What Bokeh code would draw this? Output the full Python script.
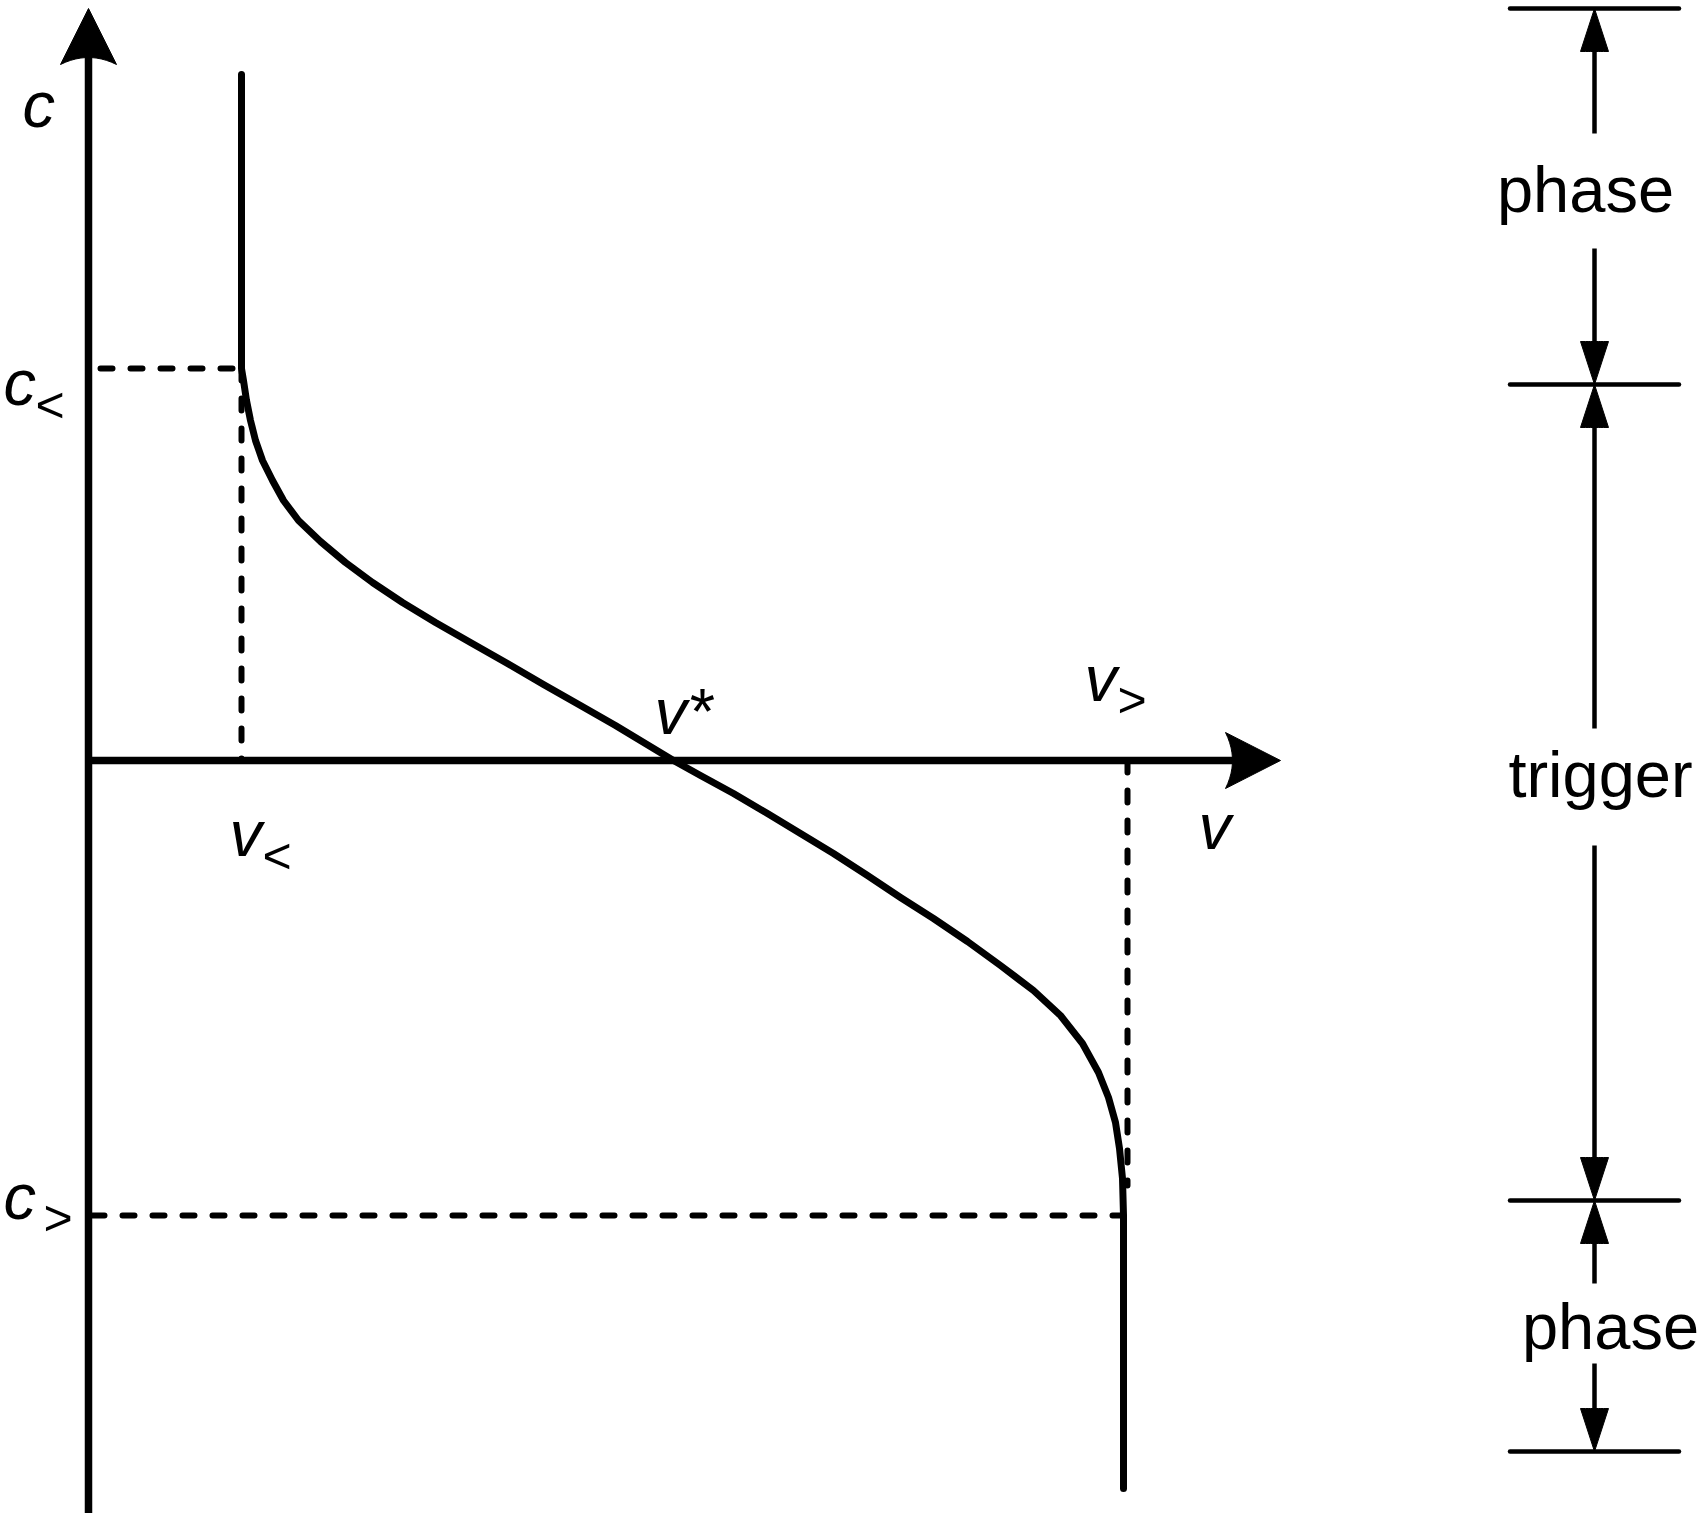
import numpy as np
from bokeh.plotting import figure
from bokeh.models import Range1d
from bokeh.embed import file_html
from bokeh.resources import INLINE
from bokeh.core.properties import value

# ---------------- data (diagram units) ----------------
# characteristic curve c(v)
v_curve = [1.53, 1.53, 1.55, 1.58, 1.62, 1.67, 1.74, 1.84, 1.95, 2.10, 2.32, 2.57,
           2.84, 3.14, 3.47, 3.82, 4.19, 4.55, 4.92, 5.27, 5.85, 6.12, 6.45, 6.79,
           7.12, 7.45, 7.79, 8.12, 8.45, 8.79, 9.12, 9.45, 9.72, 9.94, 10.10, 10.20,
           10.27, 10.31, 10.34, 10.35, 10.35]
c_curve = [6.86, 3.92, 3.80, 3.60, 3.40, 3.20, 3.00, 2.80, 2.60, 2.40, 2.19, 1.98,
           1.78, 1.58, 1.38, 1.18, 0.97, 0.76, 0.55, 0.35, 0.00, -0.15, -0.33, -0.53,
           -0.73, -0.93, -1.15, -1.37, -1.58, -1.81, -2.05, -2.30, -2.55, -2.83, -3.12, -3.37,
           -3.62, -3.88, -4.18, -4.55, -7.28]

v_lt, v_star, v_gt, v_gt_dash = 1.53, 5.85, 10.35, 10.39
c_lt, c_gt = 3.92, -4.55
v_gt_dash_end = -4.25

# axes extents
c_axis = [-7.60, 7.52]
v_axis = [0.0, 11.92]

# right-hand bracket
bracket_v = 15.06
bracket_half = 0.845
bracket_c = [7.52, 3.76, -4.40, -6.91]
bracket_labels = ["phase", "trigger", "phase"]
gap_top = [6.27, 0.32, -5.23]      # shaft ends above label
gap_bot = [5.12, -0.85, -6.03]     # shaft starts below label
label_dx = [-0.09, 0.06, 0.16]
label_c = [5.47, -0.38, -5.90]

PX = 0.01  # data units per screen pixel (both axes)
K = 0.37   # baseline correction (fraction of font size)

p = figure(width=1704, height=1513, x_range=Range1d(-0.88, 16.16),
           y_range=Range1d(-7.53, 7.60), min_border=0,
           toolbar_location=None, output_backend="svg")
p.axis.visible = False
p.grid.visible = False
p.outline_line_color = None
p.background_fill_color = "white"
p.border_fill_color = "white"

BLACK = "black"


def head(tip_x, tip_y, dx, dy, length, width, concave=0.0):
    """Return polygon (data coords) for an arrow head; sizes in px."""
    L, W, C = length * PX, width * PX, concave * PX
    bx, by = tip_x - dx * L, tip_y - dy * L
    nx, ny = -dy, dx
    xs = [tip_x, bx + nx * W / 2]
    ys = [tip_y, by + ny * W / 2]
    t = np.linspace(0, 1, 12)[1:-1]
    for tt in t:
        s = 1 - 2 * tt
        k = C * (1 - s * s)
        xs.append(bx + nx * W / 2 * s + dx * k)
        ys.append(by + ny * W / 2 * s + dy * k)
    xs.append(bx - nx * W / 2)
    ys.append(by - ny * W / 2)
    return xs, ys


# ---------------- axes ----------------
p.line([0, 0], [c_axis[0], c_axis[1] - 0.3], line_width=7.5, color=BLACK)
p.line([v_axis[0] - 0.03, v_axis[1] - 0.3], [0, 0], line_width=7.5, color=BLACK)
hx, hy = head(0, c_axis[1], 0, 1, 56, 56, 7)
p.patch(hx, hy, color=BLACK)
hx, hy = head(v_axis[1], 0, 1, 0, 55, 56, 7)
p.patch(hx, hy, color=BLACK)

# ---------------- dashed guides ----------------
dash = dict(line_width=6, line_dash="12 18", line_cap="round", color=BLACK)
p.line([0.12, v_lt], [c_lt, c_lt], **dash)
p.line([v_lt, v_lt], [c_lt, 0], **dash)
p.line([0.04, v_gt], [c_gt, c_gt], **dash)
p.line([v_gt_dash, v_gt_dash], [0, v_gt_dash_end], **dash)

# ---------------- curve ----------------
p.line(v_curve, c_curve, line_width=7, color=BLACK, line_join="round", line_cap="round")

# ---------------- math labels ----------------
FS, SS = 65, 50
ital = dict(text_font=value("Liberation Sans"), text_font_style="italic",
            text_font_size=f"{FS}px", text_baseline="alphabetic", text_align="left",
            text_color=BLACK)
sub = dict(text_font=value("Liberation Sans"), text_font_size=f"{SS}px",
           text_baseline="alphabetic", text_align="left", text_color=BLACK)
dF, dS = K * FS * PX, K * SS * PX

p.text(x=[0 - 66 * PX], y=[c_axis[1] - 120 * PX + dF], text=["c"], **ital)
p.text(x=[0 - 85 * PX], y=[c_lt - 38 * PX + dF], text=["c"], **ital)
p.text(x=[0 - 53 * PX], y=[c_lt - 55 * PX + dS], text=["<"], **sub)
p.text(x=[0 - 85 * PX], y=[c_gt - 5 * PX + dF], text=["c"], **ital)
p.text(x=[0 - 45 * PX], y=[c_gt - 21 * PX + dS], text=[">"], **sub)
p.text(x=[v_lt - 12 * PX], y=[0 - 97 * PX + dF], text=["v"], **ital)
p.text(x=[v_lt + 21 * PX], y=[0 - 114 * PX + dS], text=["<"], **sub)
p.text(x=[v_star - 19 * PX], y=[0 + 25 * PX + dF], text=["v*"], **ital)
p.text(x=[v_gt - 39 * PX], y=[0 + 58 * PX + dF], text=["v"], **ital)
p.text(x=[v_gt - 6 * PX], y=[0 + 42 * PX + dS], text=[">"], **sub)
p.text(x=[v_axis[1] - 82 * PX], y=[0 - 90 * PX + dF], text=["v"], **ital)

# ---------------- right-hand bracket ----------------
thin = dict(line_width=4.5, color=BLACK, line_cap="round")
for cc in bracket_c:
    p.line([bracket_v - bracket_half, bracket_v + bracket_half], [cc, cc], **thin)

for i in range(3):
    top, bot = bracket_c[i], bracket_c[i + 1]
    # upward arrow
    p.line([bracket_v, bracket_v], [gap_top[i], top - 0.3], line_width=4.5, color=BLACK)
    hx, hy = head(bracket_v, top, 0, 1, 43, 28)
    p.patch(hx, hy, color=BLACK)
    # downward arrow
    p.line([bracket_v, bracket_v], [gap_bot[i], bot + 0.3], line_width=4.5, color=BLACK)
    hx, hy = head(bracket_v, bot, 0, -1, 43, 28)
    p.patch(hx, hy, color=BLACK)

p.text(x=[bracket_v + d for d in label_dx], y=[c + dF for c in label_c], text=bracket_labels,
       text_font=value("Liberation Sans"), text_font_size=f"{FS}px",
       text_baseline="alphabetic", text_align="center", text_color=BLACK)

open("out.html", "w").write(file_html(p, INLINE))
